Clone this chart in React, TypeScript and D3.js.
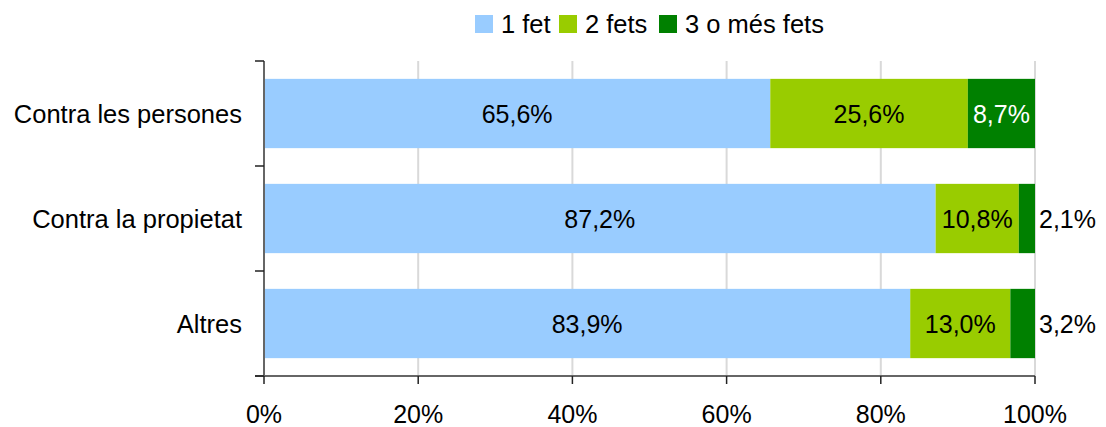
import { scaleBand, scaleLinear, stack, stackOffsetExpand } from "d3";

const categories = ["Contra les persones", "Contra la propietat", "Altres"];
const seriesNames = ["1 fet", "2 fets", "3 o més fets"];
const oneFact = [65.6, 87.2, 83.9];
const twoFacts = [25.6, 10.8, 13.0];
const threeOrMore = [8.7, 2.1, 3.2];
const xTicks = [0, 0.2, 0.4, 0.6, 0.8, 1];

const colors = ["#99ccff", "#99cc00", "#008000"];
const labelColors = ["#000", "#000", "#fff"];
const font = "'Liberation Sans', Arial, sans-serif";

type Row = { category: string; [key: string]: number | string };

const rows: Row[] = categories.map((category, i) => ({
  category,
  [seriesNames[0]]: oneFact[i],
  [seriesNames[1]]: twoFacts[i],
  [seriesNames[2]]: threeOrMore[i]
}));

const formatPct = (v: number) => `${v.toFixed(1).replace(".", ",")}%`;

export default function App() {
  const width = 1106;
  const height = 427;
  const margin = { top: 61, right: 71, bottom: 51, left: 264 };
  const innerWidth = width - margin.left - margin.right;
  const innerHeight = height - margin.top - margin.bottom;

  const x = scaleLinear().domain([0, 1]).range([0, innerWidth]);
  const y = scaleBand<string>().domain(categories).range([0, innerHeight]);
  const barHeight = y.bandwidth() * 0.66;

  const stacked = stack<Row>()
    .keys(seriesNames)
    .value((d, key) => d[key] as number)
    .offset(stackOffsetExpand)(rows);

  const legendOffsets = [0, 84, 184];

  return (
    <svg width={width} height={height} style={{ position: "absolute", left: 0, top: 0, fontFamily: font }}>
      <rect width={width} height={height} fill="#fff" />

      <g transform="translate(475, 15)">
        {seriesNames.map((name, i) => (
          <g key={name} transform={`translate(${legendOffsets[i]}, 0)`}>
            <rect width={18} height={18} fill={colors[i]} />
            <text x={26} y={18} fontSize={25.5} fill="#000">
              {name}
            </text>
          </g>
        ))}
      </g>

      <g transform={`translate(${margin.left}, ${margin.top})`}>
        {xTicks.slice(1).map((t) => (
          <line key={t} x1={x(t)} x2={x(t)} y1={0} y2={innerHeight} stroke="#d9d9d9" strokeWidth={2} />
        ))}

        {stacked.map((series, si) => (
          <g key={series.key}>
            {series.map((seg, ri) => {
              const cat = categories[ri];
              const x0 = x(seg[0]);
              const x1 = x(seg[1]);
              const yTop = (y(cat) ?? 0) + (y.bandwidth() - barHeight) / 2;
              const value = rows[ri][series.key] as number;
              const segW = x1 - x0;
              const inside = segW > 45;
              return (
                <g key={cat}>
                  <rect x={x0} y={yTop} width={segW} height={barHeight} fill={colors[si]} />
                  <text
                    x={inside ? (x0 + x1) / 2 : x(1) + 4}
                    y={yTop + barHeight / 2 + 9}
                    textAnchor={inside ? "middle" : "start"}
                    fontSize={25}
                    fill={inside ? labelColors[si] : "#000"}
                  >
                    {formatPct(value)}
                  </text>
                </g>
              );
            })}
          </g>
        ))}

        <line x1={0} x2={0} y1={0} y2={innerHeight} stroke="#666" strokeWidth={2} />
        <line x1={-9} x2={innerWidth} y1={innerHeight} y2={innerHeight} stroke="#666" strokeWidth={2} />

        {[...categories.map((c) => y(c) ?? 0), innerHeight].map((v) => (
          <line key={v} x1={-9} x2={0} y1={v} y2={v} stroke="#222" strokeWidth={1.5} />
        ))}

        {categories.map((c) => (
          <text
            key={c}
            x={-22}
            y={(y(c) ?? 0) + y.bandwidth() / 2 + 9}
            textAnchor="end"
            fontSize={25.5}
            fill="#000"
          >
            {c}
          </text>
        ))}

        {xTicks.map((t) => (
          <g key={t} transform={`translate(${x(t)}, ${innerHeight})`}>
            <line y1={0} y2={8} stroke="#222" strokeWidth={1.5} />
            <text y={47} textAnchor="middle" fontSize={25} fill="#000">
              {`${Math.round(t * 100)}%`}
            </text>
          </g>
        ))}
      </g>
    </svg>
  );
}
